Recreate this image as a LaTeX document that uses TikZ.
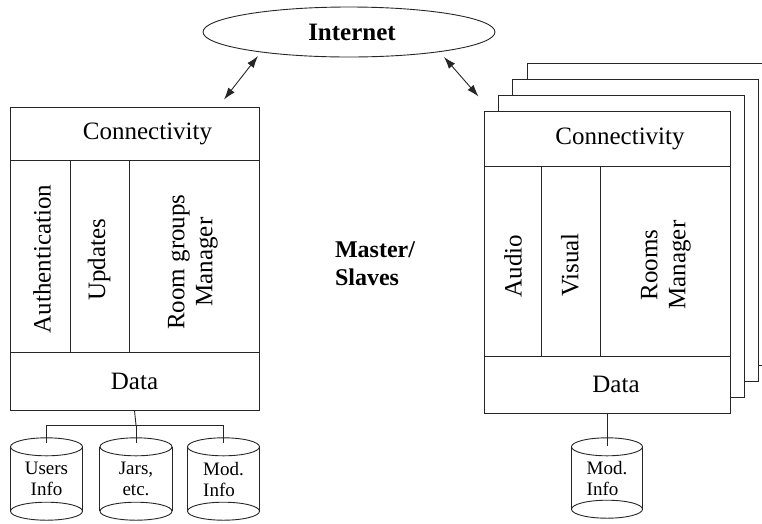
\documentclass[tikz,border=0pt]{standalone}
\usepackage{fontspec}
\setmainfont{Liberation Serif}
\usetikzlibrary{arrows.meta,shapes.geometric}

% database drum: name, x, y (centre), width, height, text, alignment
\newcommand\dbdrum[7]{%
  \node[drumtext, minimum width=#4pt, minimum height=#5pt, align=#7] (#1) at (#2,#3) {#6};
  \draw[line] ([yshift=-9pt]#1.north) ellipse [x radius=#4pt/2, y radius=9pt];
  \draw[line] ([yshift=9pt]#1.south) ellipse [x radius=#4pt/2, y radius=9pt];
  \draw[line] ([yshift=-9pt]#1.north west) -- ([yshift=9pt]#1.south west);
  \draw[line] ([yshift=-9pt]#1.north east) -- ([yshift=9pt]#1.south east);
}

\begin{document}
\begin{tikzpicture}[x=1pt,y=-1pt,
  every node/.style={font=\fontsize{25}{28}\selectfont},
  line/.style={draw=black!85, line width=0.9pt},
  frame/.style={line, fill=white, rectangle, inner sep=0pt},
  vtext/.style={rotate=90, align=center, inner sep=0pt},
  drumtext/.style={rectangle, inner sep=0pt, font=\fontsize{19}{21}\selectfont},
  link/.style={line, {Latex[length=12pt,width=8pt]}-{Latex[length=12pt,width=8pt]}}]

\useasboundingbox (0,0) rectangle (762,523);
\clip (0,0) rectangle (762,523);

% network cloud
\node[ellipse, line, minimum width=292pt, minimum height=50pt, inner sep=0pt,
      label={[xshift=3pt, font=\fontsize{25}{28}\selectfont\bfseries]center:Internet}] (inet) at (349,32) {};

% ---------- master node ----------
\node[frame, minimum width=249pt, minimum height=53pt,
      label={[xshift=13pt]center:Connectivity}] (mconn) at (134.5,133.5) {};
\node[frame, minimum width=60pt, minimum height=192pt] (mauth) at (40,256) {};
\node[frame, minimum width=59pt, minimum height=192pt] (mupd) at (99.5,256) {};
\node[frame, minimum width=130pt, minimum height=192pt] (mroom) at (194,256) {};
\node[frame, minimum width=249pt, minimum height=58pt] (mdata) at (134.5,381) {Data};
\node[vtext] at (42,259) {Authentication};
\node[vtext] at (99,260) {Updates};
\node[vtext] at (193,262) {Room groups\\Manager};

% ---------- slave stack ----------
\node[frame, minimum width=246pt, minimum height=302pt] (s4) at (650,214) {};
\node[frame, minimum width=246pt, minimum height=302pt] (s3) at (635,230) {};
\node[frame, minimum width=246pt, minimum height=302pt] (s2) at (621,246) {};
\node[frame, minimum width=246pt, minimum height=55pt,
      label={[xshift=13pt]center:Connectivity}] (sconn) at (607,138.5) {};
\node[frame, minimum width=57pt, minimum height=190pt] (saudio) at (512.5,261) {};
\node[frame, minimum width=59pt, minimum height=190pt] (svis) at (570.5,261) {};
\node[frame, minimum width=130pt, minimum height=190pt] (sroom) at (665,261) {};
\node[frame, minimum width=246pt, minimum height=57pt,
      label={[xshift=9pt]center:Data}] (sdata) at (607,384.5) {};
\node[vtext] at (513,266) {Audio};
\node[vtext] at (570,265) {Visual};
\node[vtext] at (666,265) {Rooms\\Manager};

% middle caption
\node[align=left, inner sep=0pt, font=\fontsize{24}{28}\selectfont\bfseries] (ms) at (375,264) {Master/\\Slaves};

% links to the network
\draw[link] ([xshift=89.5pt,yshift=7pt]mconn.north) -- ([xshift=-91pt,yshift=-24pt]inet.center);
\draw[link] ([xshift=95pt,yshift=-25pt]inet.center) -- ([xshift=-5pt,yshift=14pt]sconn.north west);

% master storage
\dbdrum{users}{46.5}{479}{72}{82}{Users\\Info}{center}
\dbdrum{jars}{136}{479}{72}{82}{Jars,\\etc.}{center}
\dbdrum{mmod}{223.5}{479}{72}{82}{Mod.\\Info}{left}
\coordinate (bus) at (136,425);
\draw[line] (mdata.south) -- (bus);
\draw[line] (bus) -| ([yshift=-5pt]users.north);
\draw[line] (bus) -| ([yshift=-5pt]mmod.north);
\draw[line] (bus) -- ([yshift=-5pt]jars.north);

% slave storage
\dbdrum{smod}{607}{478}{71}{80}{Mod.\\Info}{left}
\draw[line] (sdata.south) -- ([yshift=-8pt]smod.north);

\end{tikzpicture}
\end{document}
